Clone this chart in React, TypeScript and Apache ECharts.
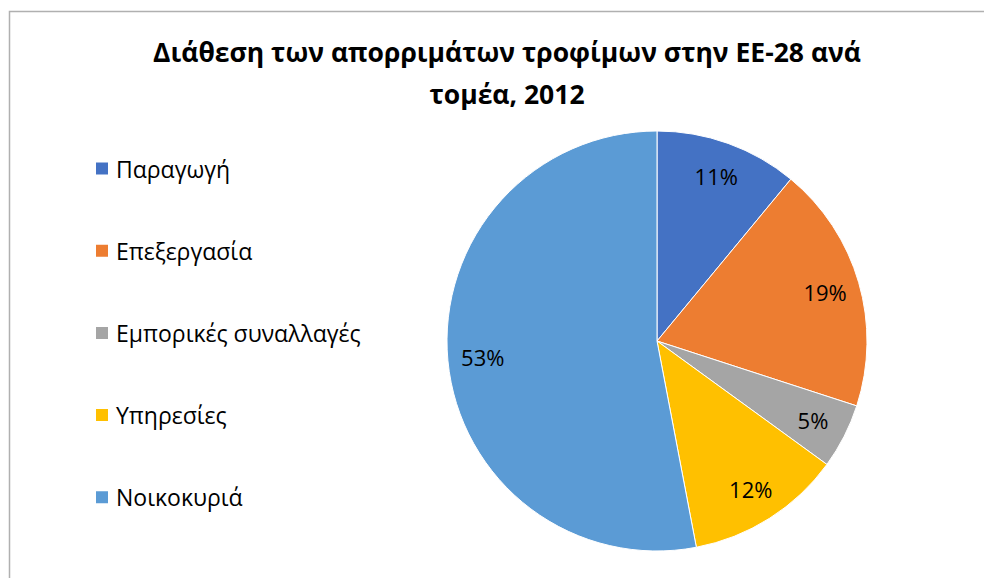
import React, { useEffect, useRef } from "react";
import * as echarts from "echarts";

const categories = ["Παραγωγή", "Επεξεργασία", "Εμπορικές συναλλαγές", "Υπηρεσίες", "Νοικοκυριά"];
const shares = [11, 19, 5, 12, 53];
const colors = ["#4472C4", "#ED7D31", "#A5A5A5", "#FFC000", "#5B9BD5"];
const titleText = "Διάθεση των απορριμάτων τροφίμων στην ΕΕ-28 ανά\nτομέα, 2012";

export default function App() {
  const ref = useRef<HTMLDivElement>(null);
  useEffect(() => {
    if (!ref.current) return;
    const chart = echarts.init(ref.current, undefined, { renderer: "svg" });
    const data = categories.map((name, i) => ({ name, value: shares[i], itemStyle: { color: colors[i] } }));
    chart.setOption({
      animation: false,
      backgroundColor: "#ffffff",
      color: colors,
      title: {
        text: titleText,
        left: 502,
        textAlign: "center",
        top: 26,
        textStyle: {
          fontFamily: "Open Sans",
          fontWeight: "bold",
          fontSize: 26.5,
          lineHeight: 42,
          color: "#000000",
        },
      },
      legend: {
        orient: "vertical",
        left: 94,
        top: 157,
        padding: 0,
        itemWidth: 14,
        itemHeight: 14,
        itemGap: 59.2,
        icon: "rect",
        data: categories,
        textStyle: {
          fontFamily: "Open Sans",
          fontSize: 23,
          lineHeight: 20,
          color: "#000000",
          padding: [0, 0, 0, 2],
        },
      },
      graphic: [
        {
          type: "rect",
          shape: { x: 9.5, y: 11.5, width: 1200, height: 1200 },
          style: { fill: "none", stroke: "#b0b0b0", lineWidth: 1.5 },
          silent: true,
        },
      ],
      series: [
        {
          type: "pie",
          center: [657, 341],
          radius: [0, 210],
          startAngle: 90,
          clockwise: true,
          label: { show: false },
          labelLine: { show: false },
          itemStyle: { borderColor: "#ffffff", borderWidth: 1 },
          data,
          silent: true,
        },
        {
          type: "pie",
          center: [657, 341],
          radius: [134, 210],
          startAngle: 90,
          clockwise: true,
          silent: true,
          itemStyle: { color: "transparent", borderWidth: 0 },
          label: {
            show: true,
            position: "inside",
            formatter: "{c}%",
            fontFamily: "Open Sans",
            fontSize: 22,
            color: "#000000",
          },
          labelLine: { show: false },
          data: categories.map((name, i) => ({ name, value: shares[i], itemStyle: { color: "transparent" } })),
        },
      ],
    });
    return () => chart.dispose();
  }, []);
  return <div ref={ref} style={{ position: "absolute", left: 0, top: 0, width: 984, height: 578 }} />;
}
